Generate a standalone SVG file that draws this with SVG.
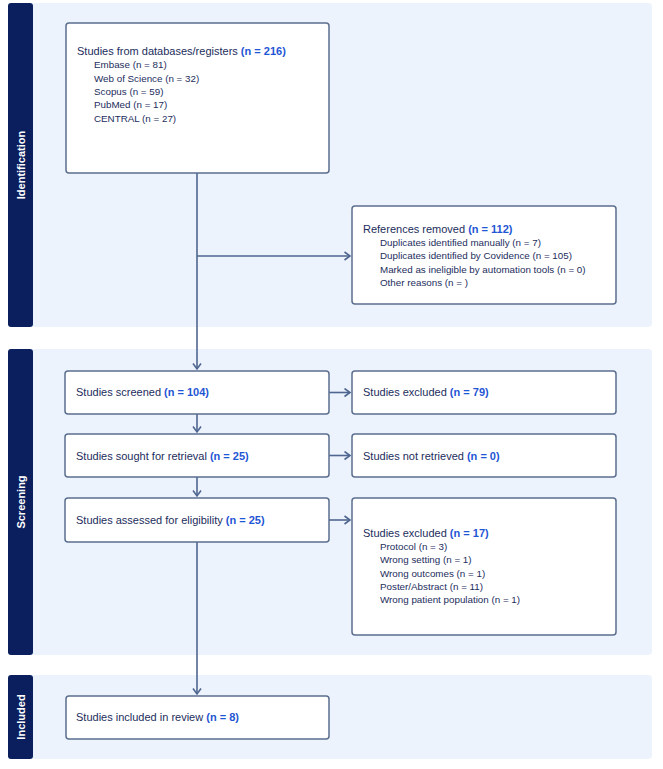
<svg xmlns="http://www.w3.org/2000/svg" width="663" height="769" viewBox="0 0 663 769">
<defs>
<marker id="arr" markerWidth="10" markerHeight="10" refX="7" refY="5" orient="auto" markerUnits="userSpaceOnUse">
<path d="M1.5,1 L7,5 L1.5,9" fill="none" stroke="#4f6690" stroke-width="1.6"/>
</marker>
</defs>
<style>
.band{fill:#edf3fc}
.side{fill:#0b1f5e}
.sidet{fill:#ffffff;font-family:"Liberation Sans",Arial,sans-serif;font-size:11px;font-weight:bold;text-anchor:middle}
.box{fill:#ffffff;stroke:#5b6f8f;stroke-width:1.5}
.t{fill:#1c2d5c;font-family:"Liberation Sans",Arial,sans-serif;font-size:11px}
.s{fill:#1c2d5c;font-family:"Liberation Sans",Arial,sans-serif;font-size:9.8px}
.n{fill:#1f56d4;font-weight:bold}
.ln{fill:none;stroke:#4f6690;stroke-width:1.6}
</style>
<g id="phases">
<rect class="band" x="30" y="3" width="622" height="324" rx="4"/>
<rect class="side" x="8" y="3" width="25" height="324" rx="3"/>
<text class="sidet" x="25" y="165" transform="rotate(-90 25 165)">Identification</text>
<rect class="band" x="30" y="349" width="622" height="306" rx="4"/>
<rect class="side" x="8" y="349" width="25" height="306" rx="3"/>
<text class="sidet" x="25" y="502" transform="rotate(-90 25 502)">Screening</text>
<rect class="band" x="30" y="675" width="622" height="84" rx="4"/>
<rect class="side" x="8" y="675" width="25" height="84" rx="3"/>
<text class="sidet" x="25" y="717" transform="rotate(-90 25 717)">Included</text>
</g>
<g id="connectors">
<path class="ln" d="M197,173 V369" marker-end="url(#arr)"/>
<path class="ln" d="M197,256 H350" marker-end="url(#arr)"/>
<path class="ln" d="M197,414 V432" marker-end="url(#arr)"/>
<path class="ln" d="M197,477 V496" marker-end="url(#arr)"/>
<path class="ln" d="M197,542 V694" marker-end="url(#arr)"/>
<path class="ln" d="M329,392.5 H350" marker-end="url(#arr)"/>
<path class="ln" d="M329,455.5 H350" marker-end="url(#arr)"/>
<path class="ln" d="M329,520 H350" marker-end="url(#arr)"/>
</g>
<g id="node-databases">
<rect class="box" x="66" y="23" width="263" height="150" rx="3"/>
<text class="t" x="77" y="55">Studies from databases/registers <tspan class="n">(n = 216)</tspan></text>
<text class="s" x="94" y="68">Embase (n = 81)</text>
<text class="s" x="94" y="82">Web of Science (n = 32)</text>
<text class="s" x="94" y="95">Scopus (n = 59)</text>
<text class="s" x="94" y="108">PubMed (n = 17)</text>
<text class="s" x="94" y="122">CENTRAL (n = 27)</text>
</g>
<g id="node-removed">
<rect class="box" x="352" y="206" width="264" height="98" rx="3"/>
<text class="t" x="363" y="233">References removed <tspan class="n">(n = 112)</tspan></text>
<text class="s" x="380" y="246">Duplicates identified manually (n = 7)</text>
<text class="s" x="380" y="259">Duplicates identified by Covidence (n = 105)</text>
<text class="s" x="380" y="273">Marked as ineligible by automation tools (n = 0)</text>
<text class="s" x="380" y="286">Other reasons (n = )</text>
</g>
<g id="node-screened">
<rect class="box" x="65" y="371" width="264" height="43" rx="3"/>
<text class="t" x="76" y="396">Studies screened <tspan class="n">(n = 104)</tspan></text>
</g>
<g id="node-excluded1">
<rect class="box" x="352" y="371" width="264" height="43" rx="3"/>
<text class="t" x="363" y="396">Studies excluded <tspan class="n">(n = 79)</tspan></text>
</g>
<g id="node-sought">
<rect class="box" x="65" y="434" width="264" height="43" rx="3"/>
<text class="t" x="76" y="460">Studies sought for retrieval <tspan class="n">(n = 25)</tspan></text>
</g>
<g id="node-notretrieved">
<rect class="box" x="352" y="434" width="264" height="43" rx="3"/>
<text class="t" x="363" y="460">Studies not retrieved <tspan class="n">(n = 0)</tspan></text>
</g>
<g id="node-assessed">
<rect class="box" x="65" y="498" width="264" height="44" rx="3"/>
<text class="t" x="76" y="524">Studies assessed for eligibility <tspan class="n">(n = 25)</tspan></text>
</g>
<g id="node-excluded2">
<rect class="box" x="352" y="498" width="264" height="137" rx="3"/>
<text class="t" x="363" y="537">Studies excluded <tspan class="n">(n = 17)</tspan></text>
<text class="s" x="380" y="550">Protocol (n = 3)</text>
<text class="s" x="380" y="563">Wrong setting (n = 1)</text>
<text class="s" x="380" y="577">Wrong outcomes (n = 1)</text>
<text class="s" x="380" y="590">Poster/Abstract (n = 11)</text>
<text class="s" x="380" y="603">Wrong patient population (n = 1)</text>
</g>
<g id="node-included">
<rect class="box" x="66" y="696" width="263" height="43" rx="3"/>
<text class="t" x="76" y="721">Studies included in review <tspan class="n">(n = 8)</tspan></text>
</g>
</svg>
